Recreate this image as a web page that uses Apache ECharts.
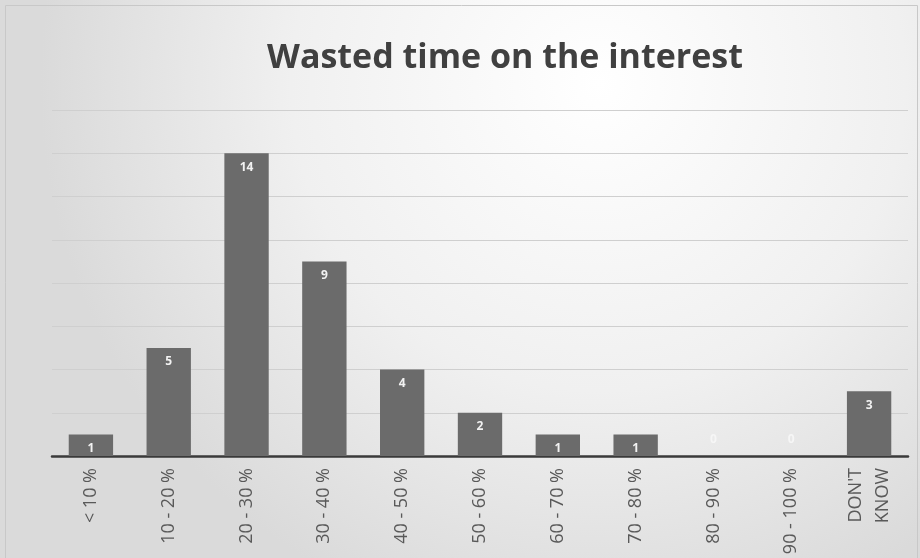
<!DOCTYPE html>
<html>
<head>
    <meta charset="UTF-8">
    <title>Wasted time on the interest</title>
    <style type="text/css">
        html, body { margin: 0; padding: 0; }
        #main { width: 920px; height: 558px; }
    </style>
</head>
<body>
<div id="main"></div>
<script src="https://cdn.jsdelivr.net/npm/echarts@6/dist/echarts.min.js"></script>
<script>
    // data
    var categories = ['< 10 %', '10 - 20 %', '20 - 30 %', '30 - 40 %', '40 - 50 %', '50 - 60 %',
        '60 - 70 %', '70 - 80 %', '80 - 90 %', '90 - 100 %', "DON'T\nKNOW"];
    var counts = [1, 5, 14, 9, 4, 2, 1, 1, 0, 0, 3];

    var myChart = echarts.init(document.getElementById('main'));

    // zero bars have no height, so their label sits just above the axis
    var barData = counts.map(function (v) {
        if (v === 0) {
            return { value: v, label: { position: 'top', distance: 10, color: '#f6f6f6' } };
        }
        return v;
    });

    var option = {
        backgroundColor: {
            type: 'radial', x: 0.65, y: 0.15, r: 1.0,
            colorStops: [
                { offset: 0, color: '#ffffff' },
                { offset: 0.55, color: '#f0f0f0' },
                { offset: 1, color: '#dadada' }
            ]
        },
        animation: false,
        title: {
            text: 'Wasted time on the interest',
            left: 500,
            textAlign: 'center',
            top: 36,
            textStyle: { fontFamily: 'Open Sans', fontWeight: 'bold', fontSize: 34, color: '#404040' }
        },
        graphic: [{
            type: 'rect',
            shape: { x: 5.5, y: 5.5, width: 912, height: 560 },
            style: { fill: 'none', stroke: '#c8c8c8', lineWidth: 1 }
        }],
        grid: { left: 52, right: 12, top: 110, bottom: 102 },
        xAxis: {
            type: 'category',
            data: categories,
            axisTick: { show: false },
            axisLine: { lineStyle: { color: '#3a3a3a', width: 2.5 } },
            axisLabel: {
                rotate: 90, interval: 0, margin: 12,
                fontFamily: 'Open Sans', fontSize: 18, color: '#595959', lineHeight: 27
            }
        },
        yAxis: {
            type: 'value',
            min: 0, max: 16, interval: 2,
            axisLabel: { show: false },
            axisLine: { show: false },
            axisTick: { show: false },
            splitLine: { lineStyle: { color: '#cfcfcf', width: 1 } }
        },
        series: [{
            type: 'bar',
            data: barData,
            barCategoryGap: '43%',
            itemStyle: { color: '#6b6b6b' },
            label: {
                show: true, position: 'insideTop', distance: 8,
                fontFamily: 'Open Sans', fontWeight: 'bold', fontSize: 12, color: '#f2f2f2'
            }
        }]
    };
    myChart.setOption(option);
</script>
</body>
</html>
